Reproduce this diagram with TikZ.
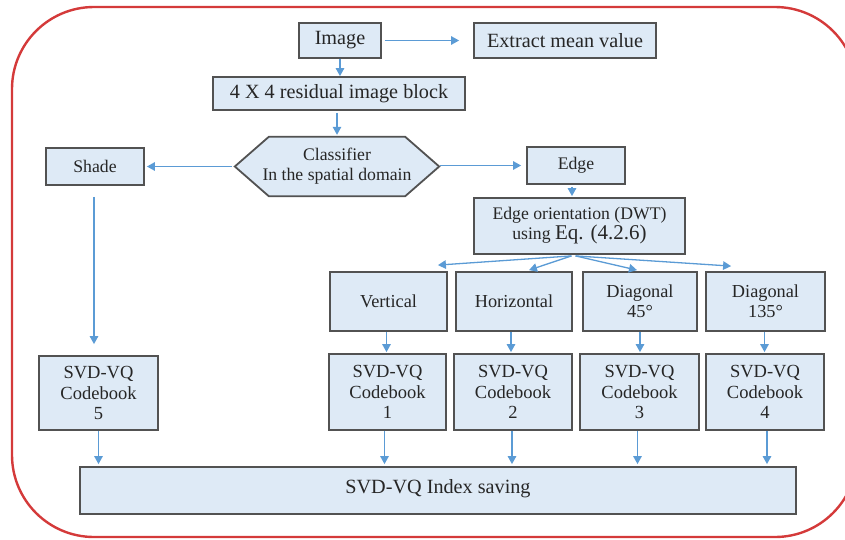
\documentclass[tikz,border=0pt]{standalone}
\usepackage{fontspec}
\setmainfont{Liberation Serif}
\usetikzlibrary{arrows.meta,backgrounds,calc}

\definecolor{boxfill}{RGB}{222,234,246}
\definecolor{boxline}{RGB}{82,82,82}
\definecolor{flow}{RGB}{91,155,213}
\definecolor{framered}{RGB}{212,58,58}

\begin{document}
\begin{tikzpicture}[x=1pt,y=-1pt,
  box/.style={draw=boxline, fill=boxfill, line width=1.8pt, inner sep=0pt,
    align=center, text=black!85, font=\fontsize{18.5}{20.5}\selectfont},
  large/.style={font=\fontsize{20.2}{22}\selectfont},
  small/.style={font=\fontsize{17.7}{20}\selectfont},
  mid/.style={font=\fontsize{18.3}{20}\selectfont},
  flowarrow/.style={draw=flow, line width=1.3pt,
    -{Triangle[length=8pt,width=8.5pt]}},
]
\useasboundingbox (0,0) rectangle (845,539);

% outer rounded frame
\begin{scope}
  \clip (0,0) rectangle (845,539);
  \draw[framered, line width=2.4pt, rounded corners=82pt] (12,7) rectangle (857,537);
\end{scope}

% top chain
\node[box, large, minimum width=82pt, minimum height=35pt] (img) at (340,40.5) {Image};
\node[box, large, minimum width=182pt, minimum height=35pt] (mean) at (565,40.5) {Extract mean value};
\node[box, large, minimum width=252pt, minimum height=33pt] (blk) at (339,93.5) {4 X 4 residual image block};

% classifier (hexagon drawn behind its text)
\node[inner sep=0pt, align=center, small, text=black!85, minimum width=204pt, minimum height=59pt]
  (cls) at (337,166.5) {Classifier\\In the spatial domain};
\begin{pgfonlayer}{background}
  \draw[draw=boxline, fill=boxfill, line width=1.8pt, line join=miter]
    (cls.west) -- ($(cls.north west)+(34,0)$) -- ($(cls.north east)+(-34,0)$)
    -- (cls.east) -- ($(cls.south east)+(-34,0)$) -- ($(cls.south west)+(34,0)$) -- cycle;
\end{pgfonlayer}

\node[box, small, minimum width=98pt, minimum height=37pt] (shade) at (95,166.5) {Shade};
\node[box, small, minimum width=98pt, minimum height=37pt] (edge) at (576,165.5) {Edge};
\node[box, small, minimum width=211pt, minimum height=56pt] (ori) at (579.5,226)
  {Edge orientation (DWT)\\using {\fontsize{21}{22}\selectfont Eq. (4.2.6)}};

% orientation classes
\node[box, mid, minimum width=117pt, minimum height=59pt] (vert) at (388.5,301.5) {Vertical};
\node[box, mid, minimum width=116pt, minimum height=59pt] (hor) at (514,301.5) {Horizontal};
\node[box, mid, minimum width=114pt, minimum height=59pt] (d45) at (640,301.5) {Diagonal\\45°};
\node[box, mid, minimum width=119pt, minimum height=59pt] (d135) at (765.5,301.5) {Diagonal\\135°};

% codebooks
\node[box, minimum width=119pt, minimum height=74pt] (cb5) at (98.5,393) {SVD-VQ\\Codebook\\5};
\node[box, minimum width=117pt, minimum height=76pt] (cb1) at (387.5,392) {SVD-VQ\\Codebook\\1};
\node[box, minimum width=118pt, minimum height=76pt] (cb2) at (513,392) {SVD-VQ\\Codebook\\2};
\node[box, minimum width=119pt, minimum height=76pt] (cb3) at (639.5,392) {SVD-VQ\\Codebook\\3};
\node[box, minimum width=118pt, minimum height=76pt] (cb4) at (765,392) {SVD-VQ\\Codebook\\4};

% index saving
\node[box, large, minimum width=716pt, minimum height=47pt] (idx) at (438,490.5)
  {\raisebox{9pt}{SVD-VQ Index saving}};

% connectors
\draw[flowarrow] ($(img.east)+(3,0)$) -- ($(mean.west)+(-14,0)$);
\draw[flowarrow] (img.south) -- (img.south |- blk.north);
\draw[flowarrow] ($(blk.south)+(-2,2)$) -- ($(blk.south |- cls.north)+(-2,-2)$);
\draw[flowarrow] ($(cls.west)+(-3,0)$) -- ($(shade.east)+(2,0)$);
\draw[flowarrow] ($(cls.east)+(1,-1)$) -- ($(edge.west)+(-5,0)$);
\draw[flowarrow] ($(shade.south)+(-1,11)$) -- ($(shade.south |- cb5.north)+(-1,-11)$);
\draw[flowarrow] ($(edge.south)+(-4,2)$) -- ($(edge.south |- ori.north)+(-4,-1)$);

\draw[flowarrow] ($(ori.south)+(-8,1)$) -- ($(vert.north east)+(-10,-6)$);
\draw[flowarrow] ($(ori.south)+(-8,1)$) -- ($(hor.north)+(15,-1)$);
\draw[flowarrow] ($(ori.south)+(-4,1)$) -- ($(d45.north)+(-3,-1)$);
\draw[flowarrow] ($(ori.south)+(-4,1)$) -- ($(d135.north west)+(26,-5)$);

\foreach \a/\b/\dx in {vert/cb1/-2, hor/cb2/-3, d45/cb3/0, d135/cb4/-1}
  \draw[flowarrow] ($(\a.south)+(\dx,0)$) -- ($(\a.south |- \b.north)+(\dx,-1)$);

\foreach \c/\dx in {cb5/0, cb1/-3, cb2/-1, cb3/-2, cb4/2}
  \draw[flowarrow] ($(\c.south)+(\dx,0)$) -- ($(\c.south |- idx.north)+(\dx,-2)$);
\end{tikzpicture}
\end{document}
